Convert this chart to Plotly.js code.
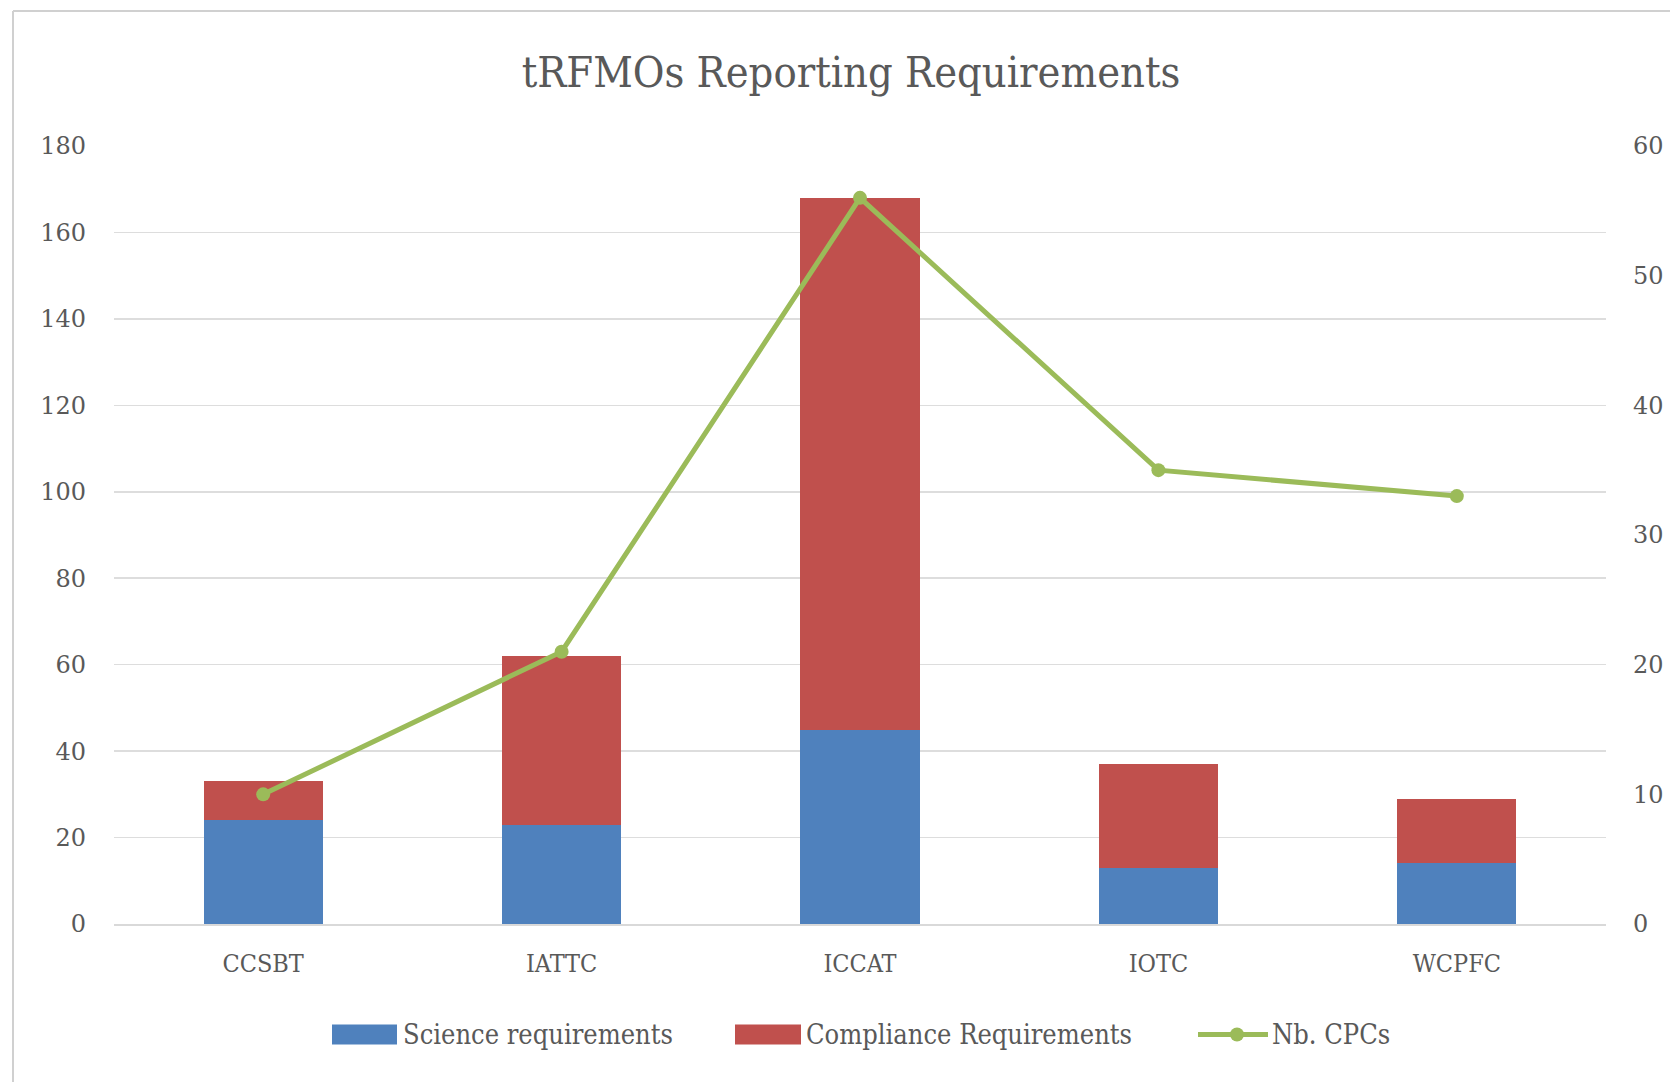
<!DOCTYPE html>
<html>
<head>
<meta charset="utf-8">
<script src="https://cdn.plot.ly/plotly-3.0.1.min.js"></script>
<style>
html,body{margin:0;padding:0;background:#fff;}
#chart{width:1670px;height:1082px;}
</style>
</head>
<body>
<div id="chart"></div>
<script>
const categories = ["CCSBT", "IATTC", "ICCAT", "IOTC", "WCPFC"];
const scienceReq = [24, 23, 45, 13, 14];
const complianceReq = [9, 39, 123, 24, 15];
const nbCPCs = [10, 21, 56, 35, 33];
const leftTicks = [0, 20, 40, 60, 80, 100, 120, 140, 160, 180];
const rightTicks = [0, 10, 20, 30, 40, 50, 60];

const W = 1670, H = 1082;
const L = 114, R = 1606, T = 146, B = 924.5;
const px = x => (x - L) / (R - L);
const py = y => (B - y) / (B - T);

const blue = "#4F81BD", red = "#C0504D", green = "#9BBB59";
const grey = "#595959";
const tickFont = {family: "DejaVu Serif, serif", size: 24, color: grey};
const labelFont = {family: "DejaVu Serif Condensed, DejaVu Serif, serif", size: 25, color: grey};
const legFont = {family: "DejaVu Serif Condensed, DejaVu Serif, serif", size: 27, color: grey};
const LEGY = 1035;

const traces = [
  {type: "bar", x: categories, y: scienceReq, name: "Science requirements",
   marker: {color: blue}, showlegend: false, hoverinfo: "skip"},
  {type: "bar", x: categories, y: complianceReq, name: "Compliance Requirements",
   marker: {color: red}, showlegend: false, hoverinfo: "skip"},
  {type: "scatter", mode: "lines+markers", x: categories, y: nbCPCs, yaxis: "y2",
   name: "Nb. CPCs", line: {color: green, width: 5}, marker: {color: green, size: 14},
   showlegend: false, hoverinfo: "skip"}
];

const shapes = [
  {type: "line", xref: "paper", yref: "paper", x0: px(13), x1: px(W + 5), y0: py(11), y1: py(11),
   line: {color: "#d0d0d0", width: 2}},
  {type: "line", xref: "paper", yref: "paper", x0: px(13), x1: px(13), y0: py(11), y1: py(H + 5),
   line: {color: "#d0d0d0", width: 2}},
  {type: "rect", xref: "paper", yref: "paper", x0: px(332), x1: px(397), y0: py(LEGY + 10), y1: py(LEGY - 10),
   fillcolor: blue, line: {width: 0}},
  {type: "rect", xref: "paper", yref: "paper", x0: px(735), x1: px(801), y0: py(LEGY + 10), y1: py(LEGY - 10),
   fillcolor: red, line: {width: 0}},
  {type: "line", xref: "paper", yref: "paper", x0: px(1198), x1: px(1268), y0: py(LEGY), y1: py(LEGY),
   line: {color: green, width: 5}},
  {type: "circle", xref: "paper", yref: "paper", x0: px(1230), x1: px(1244), y0: py(LEGY + 7), y1: py(LEGY - 7),
   fillcolor: green, line: {width: 0}}
];

const annotations = [
  {text: "Science requirements", xref: "paper", yref: "paper", x: px(401), y: py(LEGY),
   xanchor: "left", yanchor: "middle", showarrow: false, font: legFont},
  {text: "Compliance Requirements", xref: "paper", yref: "paper", x: px(804), y: py(LEGY),
   xanchor: "left", yanchor: "middle", showarrow: false, font: legFont},
  {text: "Nb. CPCs", xref: "paper", yref: "paper", x: px(1270), y: py(LEGY),
   xanchor: "left", yanchor: "middle", showarrow: false, font: legFont}
];

const layout = {
  width: W, height: H,
  margin: {l: L, r: W - R, t: T, b: H - B, pad: 0},
  paper_bgcolor: "#ffffff", plot_bgcolor: "#ffffff",
  barmode: "stack", bargap: 0.6,
  showlegend: false,
  title: {text: "tRFMOs Reporting Requirements", x: 851 / W, xref: "container", xanchor: "center",
          y: 1 - 72 / H, yref: "container", yanchor: "middle",
          font: {family: "DejaVu Serif Condensed, DejaVu Serif, serif", size: 43, color: grey}},
  xaxis: {type: "category", tickfont: labelFont, showgrid: false, showline: true,
          linecolor: "#d9d9d9", linewidth: 2, ticks: "", ticklabelstandoff: 16, fixedrange: true},
  yaxis: {range: [0, 180], tickvals: leftTicks, ticktext: leftTicks.map(String), tickfont: tickFont,
          gridcolor: "#dddddd", gridwidth: 1.5, zeroline: false, showline: false, ticks: "",
          ticklabelstandoff: 27, fixedrange: true},
  yaxis2: {range: [0, 60], tickvals: rightTicks, ticktext: rightTicks.map(String), tickfont: tickFont,
           overlaying: "y", side: "right", showgrid: false, zeroline: false, showline: false,
           ticks: "", ticklabelstandoff: 26, fixedrange: true},
  shapes: shapes,
  annotations: annotations
};

Plotly.newPlot("chart", traces, layout, {displayModeBar: false, staticPlot: true});
</script>
</body>
</html>
